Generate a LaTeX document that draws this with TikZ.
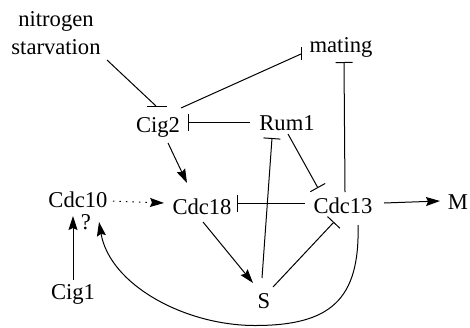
\documentclass[tikz,border=0pt]{standalone}
\usepackage{fontspec}
\setmainfont{Liberation Serif}
\usetikzlibrary{arrows.meta,calc}
\begin{document}
\begin{tikzpicture}[x=1pt,y=-1pt,
  lbl/.style={font=\fontsize{22.6}{28}\selectfont, inner sep=0pt, anchor=base},
  edge/.style={line width=1pt},
  act/.style={edge, -{Stealth[length=14pt,width=9pt,inset=2pt]}},
  inh/.style={edge, -{Bar[width=17pt]}},
  dots/.style={act, dash pattern=on 1.3pt off 5.2pt}]
\useasboundingbox (0,0) rectangle (470,327);
\node[lbl, anchor=center, align=center] (nitro) at (56,33) {nitrogen\\starvation};
\node[lbl] (cig2) at (158,132) {Cig2};
\node[lbl] (mating) at (341,52) {mating};
\node[lbl] (rum1) at (287,130) {Rum1};
\node[lbl] (cdc10) at (78,207) {Cdc10};
\node[lbl] (q) at (86,229) {?};
\node[lbl] (cdc18) at (202,214) {Cdc18};
\node[lbl] (cdc13) at (343,213) {Cdc13};
\node[lbl] (m) at (458,209) {M};
\node[lbl] (cig1) at (73,299) {Cig1};
\node[lbl] (s) at (264,308) {S};
% nitrogen starvation -| Cig2
\draw[edge] ($(nitro.center)+(51,27)$) -- ($(cig2.base)+(-2,-26)$);
\draw[edge] ($(cig2.base)+(-11,-26)$) -- ($(cig2.base)+(9,-26)$);
% Cig2 -| mating
\draw[edge] ($(cig2.base)+(23,-24)$) -- ($(mating.base)+(-40,2)$);
\draw[edge] ($(mating.base)+(-40,-5)$) -- ($(mating.base)+(-40,8)$);
% Rum1 -| Cig2
\draw[inh] ($(rum1.base)+(-37,-8)$) -- ($(cig2.base)+(30,-10)$);
% Cig2 -> Cdc18
\draw[act] ($(cig2.base)+(10,11)$) -- ($(cdc18.base)+(-15,-31)$);
% Cdc10 ..> Cdc18
\draw[dots] ($(cdc10.base)+(35,-6)$) -- ($(cdc18.base)+(-38,-11)$);
% Cdc13 -| Cdc18
\draw[inh] ($(cdc13.base)+(-38,-10)$) -- ($(cdc18.base)+(35,-11)$);
% Rum1 -| Cdc13
\draw[inh] ($(rum1.base)+(1,4)$) -- ($(cdc13.base)+(-25,-25)$);
% Cdc13 -| mating
\draw[inh] ($(cdc13.base)+(2,-21)$) -- ($(mating.base)+(3,10)$);
% S -| Rum1
\draw[inh] ($(s.base)+(-2,-30)$) -- ($(rum1.base)+(-15,8)$);
% S -| Cdc13
\draw[inh] ($(s.base)+(9,-21)$) -- ($(cdc13.base)+(-9,9)$);
% Cdc18 -> S
\draw[act] ($(cdc18.base)+(1,8)$) -- ($(s.base)+(-11,-25)$);
% Cdc13 -> M
\draw[act] ($(cdc13.base)+(41,-10)$) -- ($(m.base)+(-18,-8)$);
% Cig1 -> Cdc10
\draw[act] ($(cig1.base)+(0,-19)$) -- ($(cdc10.base)+(-5,9)$);
% Cdc13 -> Cdc10 (curve)
\draw[act] ($(cdc13.base)+(15,12)$) .. controls (360,300) and (330,325.5) .. (255,325.5)
  .. controls (185,325.5) and (110,285) .. ($(cdc10.base)+(21,15)$);
\end{tikzpicture}
\end{document}
